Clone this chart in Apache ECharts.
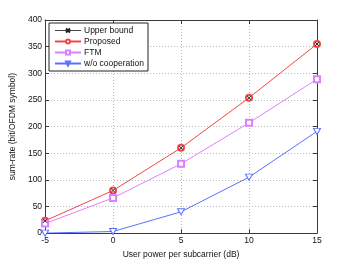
<!DOCTYPE html>
<html><head><meta charset="utf-8">
<script src="https://cdn.jsdelivr.net/npm/echarts@6/dist/echarts.min.js"></script>
<style>html,body{margin:0;padding:0;background:#fff}#c{width:350px;height:264px}</style>
</head><body><div id="c"></div>
<script>
var powers = [-5, 0, 5, 10, 15];
var upperBound = [23, 80, 160, 254, 355];
var proposed = [23, 80, 160, 254, 355];
var ftm = [18, 66, 130, 207, 289];
var woCoop = [0, 3, 40, 105, 191];
var xTicks = [-5, 0, 5, 10, 15];
var yTicks = [0, 50, 100, 150, 200, 250, 300, 350, 400];

function pairs(ys){ return powers.map(function(x,i){ return [x, ys[i]]; }); }
var font = 'Liberation Sans, Arial, sans-serif';
var fs = 8.5;
var axisColor = '#3a3a3a';
var chart = echarts.init(document.getElementById('c'), null, {renderer:'canvas'});
function axisCommon(){
  return {
    axisLine:{show:true, onZero:false, lineStyle:{color:axisColor, width:1}},
    axisTick:{show:true, inside:true, length:4, lineStyle:{color:axisColor}},
    axisLabel:{color:'#111', fontSize:fs, fontFamily:font},
    splitLine:{show:true, lineStyle:{type:[1,2], color:'#b8b8b8', width:1}}
  };
}
var xa = axisCommon();
Object.assign(xa, {type:'value', min:-5, max:15, interval:5, name:'User power per subcarrier (dB)',
  nameLocation:'middle', nameGap:15, nameTextStyle:{color:'#111', fontSize:fs, fontFamily:font}});
xa.axisLabel.margin = 3;
var ya = axisCommon();
Object.assign(ya, {type:'value', min:0, max:400, interval:50, name:'sum-rate (bit/OFDM symbol)',
  nameLocation:'middle', nameGap:21, nameRotate:90, nameTextStyle:{color:'#111', fontSize:fs, fontFamily:font}});
ya.axisLabel.margin = 3;
var xa2 = {type:'value', position:'top', min:-5, max:15, interval:5, axisLine:{show:true, onZero:false, lineStyle:{color:axisColor}},
  axisTick:{show:true, inside:true, length:4, lineStyle:{color:axisColor}}, axisLabel:{show:false}, splitLine:{show:false}};
var ya2 = {type:'value', position:'right', min:0, max:400, interval:50, axisLine:{show:true, onZero:false, lineStyle:{color:axisColor}},
  axisTick:{show:true, inside:true, length:4, lineStyle:{color:axisColor}}, axisLabel:{show:false}, splitLine:{show:false}};

var red = '#f04848', pink = '#dd80ff', blue = '#5a70ff';
chart.setOption({
  animation:false,
  backgroundColor:'#fff',
  grid:{left:45, right:33, top:20, bottom:30},
  xAxis:[xa, xa2],
  yAxis:[ya, ya2],
  legend:{
    orient:'vertical', left:49, top:23, itemGap:2, itemWidth:26, itemHeight:5,
    padding:[3,4,3,5], backgroundColor:'#fff', borderColor:'#222', borderWidth:1, borderRadius:0,
    textStyle:{color:'#111', fontSize:fs, fontFamily:font, padding:[0,0,0,-2]},
    data:[
      {name:'Upper bound', lineStyle:{color:'#444', opacity:1, width:1}},
      'Proposed', 'FTM', 'w/o cooperation'
    ]
  },
  series:[
    {name:'Proposed', type:'line', data:pairs(proposed), symbol:'emptyCircle', symbolSize:6, z:2,
     lineStyle:{color:red, width:1}, itemStyle:{color:red, borderColor:red, borderWidth:1}},
    {name:'FTM', type:'line', data:pairs(ftm), symbol:'emptyRect', symbolSize:6,
     lineStyle:{color:pink, width:1}, itemStyle:{color:pink, borderColor:pink, borderWidth:1}},
    {name:'w/o cooperation', type:'line', data:pairs(woCoop), symbol:'path://M0,0L10,0L5,9Z', symbolSize:[7,6],
     lineStyle:{color:blue, width:1}, itemStyle:{color:'#fff', borderColor:blue, borderWidth:1}},
    {name:'Upper bound', type:'line', data:pairs(upperBound), symbol:'path://M0,0L10,10M10,0L0,10', symbolSize:4, z:4,
     lineStyle:{color:'#444', width:1, opacity:0}, itemStyle:{color:'#222', borderColor:'#222', borderWidth:1}}
  ]
});
</script></body></html>
